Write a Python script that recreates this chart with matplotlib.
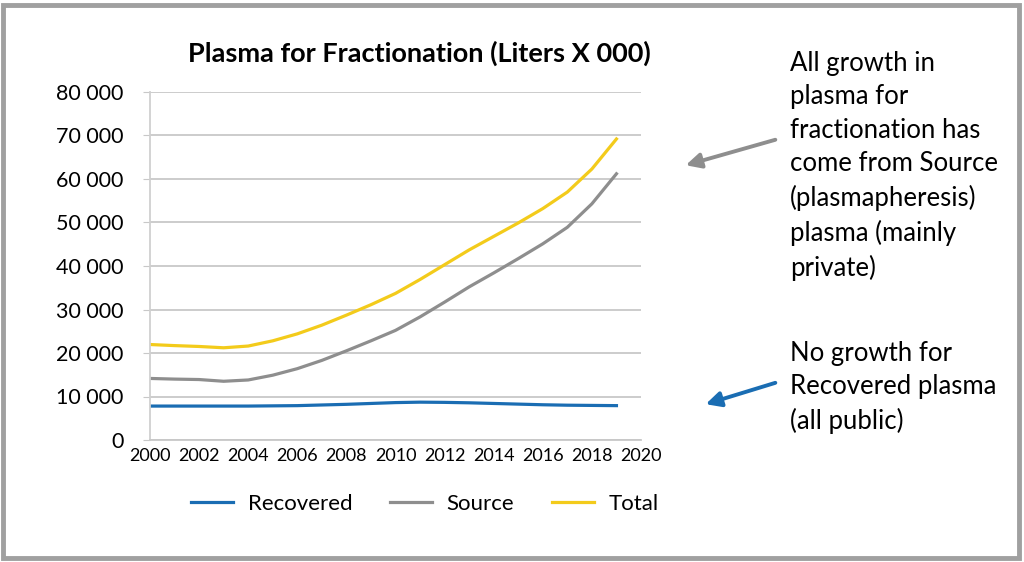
import matplotlib.pyplot as plt
from matplotlib.patches import Rectangle
from matplotlib.ticker import FuncFormatter

plt.rcParams['font.family'] = ['Lato', 'DejaVu Sans']

# data (liters x 000)
years = list(range(2000, 2020))
recovered = [7800, 7800, 7800, 7800, 7800, 7850, 7900, 8050, 8200, 8400,
             8600, 8700, 8650, 8550, 8400, 8250, 8100, 8000, 7950, 7900]
source = [14150, 14000, 13900, 13500, 13800, 14900, 16400, 18300, 20500, 22800,
          25200, 28300, 31700, 35200, 38400, 41700, 45100, 48900, 54300, 61200]
total = [21950, 21700, 21500, 21200, 21600, 22800, 24400, 26400, 28700, 31100,
         33700, 36900, 40300, 43700, 46800, 49900, 53200, 57000, 62300, 69200]

yticks = list(range(0, 80001, 10000))
xticks = list(range(2000, 2021, 2))

fig = plt.figure(figsize=(10.24, 5.62), dpi=100)
ax = fig.add_axes([150/1024, 1 - 440/562, (641-150)/1024, (440-92)/562])

ax.plot(years, recovered, color='#1a6db3', lw=2.3, label='Recovered')
ax.plot(years, source, color='#8e8e8e', lw=2.3, label='Source')
ax.plot(years, total, color='#f3cb1b', lw=2.3, label='Total')

ax.set_xlim(2000, 2020)
ax.set_ylim(0, 80000)
ax.set_yticks(yticks)
ax.set_xticks(xticks)
ax.yaxis.set_major_formatter(FuncFormatter(lambda v, p: f"{int(v):,}".replace(",", " ")))
ax.grid(axis='y', color='#c8c8c8', lw=1.3)
ax.set_axisbelow(True)
for s in ['top', 'right']:
    ax.spines[s].set_visible(False)
ax.spines['left'].set_color('#d0d0d0')
ax.spines['bottom'].set_color('#c8c8c8')
ax.spines['left'].set_linewidth(1.3)
ax.spines['bottom'].set_linewidth(1.3)
ax.tick_params(axis='y', length=5, color='#c8c8c8', labelsize=15.5, pad=14)
ax.tick_params(axis='x', length=0, labelsize=13, pad=6)

fig.text(0.41, 1 - 53/562, 'Plasma for Fractionation (Liters X 000)',
         ha='center', va='center', fontsize=19.5, fontweight='bold')

ax.legend(loc='upper center', bbox_to_anchor=(0.56, -0.097), ncol=3, frameon=False,
          fontsize=16, handlelength=1.9, handletextpad=0.65, columnspacing=1.7)

fig.text(790/1024, 1 - 51/562,
         'All growth in\nplasma for\nfractionation has\ncome from Source\n(plasmapheresis)\nplasma (mainly\nprivate)',
         ha='left', va='top', fontsize=18.5, linespacing=1.42)
fig.text(790/1024, 1 - 341/562,
         'No growth for\nRecovered plasma\n(all public)',
         ha='left', va='top', fontsize=18.5, linespacing=1.4)

ax.annotate('', xy=(683/1024, 1 - 166/562), xytext=(778/1024, 1 - 139/562),
            xycoords='figure fraction', textcoords='figure fraction',
            arrowprops=dict(arrowstyle='-|>,head_length=0.9,head_width=0.45',
                            color='#8e8e8e', lw=2.8))
ax.annotate('', xy=(703/1024, 1 - 405/562), xytext=(778/1024, 1 - 382/562),
            xycoords='figure fraction', textcoords='figure fraction',
            arrowprops=dict(arrowstyle='-|>,head_length=0.9,head_width=0.45',
                            color='#1a6db3', lw=2.8))

fig.patches.append(Rectangle((3/1024, 4/562), 1 - 8/1024, 1 - 9/562,
                             transform=fig.transFigure, fill=False,
                             edgecolor='#a0a0a0', lw=3.5))

fig.savefig('out.png', dpi=100)
